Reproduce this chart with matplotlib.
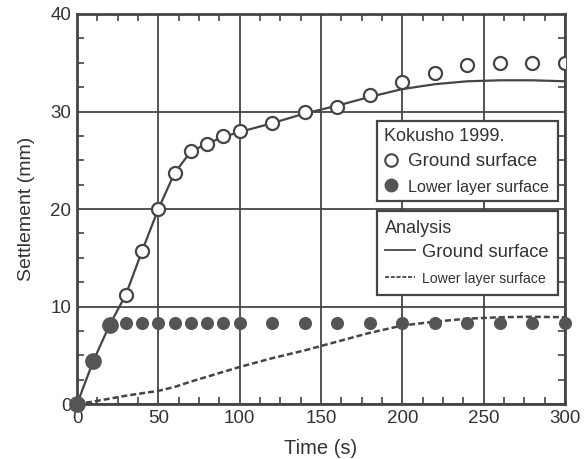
import matplotlib
matplotlib.use("Agg")
import matplotlib.pyplot as plt
from matplotlib.lines import Line2D
from matplotlib.ticker import MultipleLocator

plt.rcParams['font.family'] = ['Liberation Sans', 'DejaVu Sans']

# Observed (Kokusho 1999)
obs_time = [0, 10, 20, 30, 40, 50, 60, 70, 80, 90, 100, 120, 140, 160, 180, 200, 220, 240, 260, 280, 300]
obs_ground = [0, 4.4, 8.1, 11.2, 15.7, 20.0, 23.7, 26.0, 26.7, 27.5, 28.0, 28.8, 30.0, 30.5, 31.7, 33.0, 34.0, 34.8, 35.0, 35.0, 35.0]
obs_lower = [0, 4.4, 8.1, 8.3, 8.3, 8.3, 8.3, 8.3, 8.3, 8.3, 8.3, 8.3, 8.3, 8.3, 8.3, 8.3, 8.3, 8.3, 8.3, 8.3, 8.3]
obs_lower_size = [11, 11, 11] + [8.4] * 18

# Analysis
ana_time = [0, 10, 20, 30, 40, 50, 60, 70, 80, 90, 100, 120, 140, 160, 180, 200, 220, 240, 260, 280, 300]
ana_ground = [0, 4.4, 8.1, 11.2, 15.7, 20.0, 23.7, 25.9, 26.7, 27.4, 27.9, 28.8, 29.8, 30.6, 31.5, 32.3, 32.8, 33.1, 33.2, 33.2, 33.1]
ana_lower = [0, 0.25, 0.55, 0.85, 1.1, 1.35, 1.75, 2.3, 2.8, 3.3, 3.8, 4.7, 5.5, 6.4, 7.3, 8.05, 8.45, 8.75, 8.9, 8.95, 8.9]

col = '#454545'
tcol = '#333333'

fig = plt.figure(figsize=(5.87, 4.59), dpi=100)
ax = fig.add_axes([0.1312, 0.1198, 0.9625 - 0.1312, 0.9695 - 0.1198])

ax.plot(ana_time, ana_ground, '-', color=col, lw=1.6, zorder=3)
ax.plot(ana_time, ana_lower, '--', color=col, lw=1.8, dashes=(2.4, 1.2), zorder=3)
ax.plot(obs_time, obs_ground, 'o', ms=9.4, mfc='white', mec=col, mew=1.6, ls='none', zorder=4)
for t, v, s in zip(obs_time, obs_lower, obs_lower_size):
    ax.plot([t], [v], 'o', ms=s, mfc='#555555', mec='#555555', ls='none', zorder=5, clip_on=False)

ax.set_xlim(0, 300)
ax.set_ylim(0, 40)
ax.xaxis.set_major_locator(MultipleLocator(50))
ax.xaxis.set_minor_locator(MultipleLocator(12.5))
ax.yaxis.set_major_locator(MultipleLocator(10))
ax.yaxis.set_minor_locator(MultipleLocator(2.5))
ax.grid(True, which='major', color=col, lw=1.3)
ax.set_axisbelow(True)
ax.tick_params(which='both', direction='in', top=True, right=True, colors=col, labelsize=13.5,
               labelcolor=tcol)
ax.tick_params(which='major', length=0, pad=4)
ax.tick_params(which='minor', length=5, width=1.2)
for s in ax.spines.values():
    s.set_color(col)
    s.set_linewidth(2.0)

ax.set_xlabel('Time (s)', fontsize=14.5, color=tcol, labelpad=9)
ax.set_ylabel('Settlement (mm)', fontsize=14, color=tcol, labelpad=11)

h1 = [Line2D([], [], marker='o', ls='none', ms=9, mfc='white', mec=col, mew=1.5),
      Line2D([], [], marker='o', ls='none', ms=9, mfc='#555555', mec='#555555')]
leg1 = ax.legend(h1, ['Ground surface', 'Lower layer surface'], title='Kokusho 1999.',
                 loc='upper left', bbox_to_anchor=(0.615, 0.725, 0.371, 0), mode='expand',
                 fancybox=False, edgecolor=col, framealpha=1, fontsize=13.5,
                 title_fontsize=13, alignment='left', handlelength=0.8, handletextpad=0.5,
                 borderpad=0.35, labelspacing=0.45, borderaxespad=0, handleheight=0.7)
leg1.get_frame().set_linewidth(1.6)
leg1.get_texts()[1].set_fontsize(11.6)
for t in leg1.get_texts():
    t.set_color(tcol)
leg1.get_title().set_color(tcol)
leg1._legend_box.sep = 6
ax.add_artist(leg1)

h2 = [Line2D([], [], ls='-', color=col, lw=1.3),
      Line2D([], [], ls='--', color=col, lw=1.3, dashes=(2.2, 1))]
leg2 = ax.legend(h2, ['Ground surface', 'Lower layer surface'], title='Analysis',
                 loc='upper left', bbox_to_anchor=(0.615, 0.494, 0.371, 0), mode='expand',
                 fancybox=False, edgecolor=col, framealpha=1, fontsize=13.2,
                 title_fontsize=13, alignment='left', handlelength=1.6, handletextpad=0.4,
                 borderpad=0.45, labelspacing=0.55, borderaxespad=0)
leg2.get_frame().set_linewidth(1.6)
leg2.get_texts()[1].set_fontsize(10.2)
for t in leg2.get_texts():
    t.set_color(tcol)
leg2.get_title().set_color(tcol)
leg2._legend_box.sep = 5

fig.savefig('out.png', dpi=100)
